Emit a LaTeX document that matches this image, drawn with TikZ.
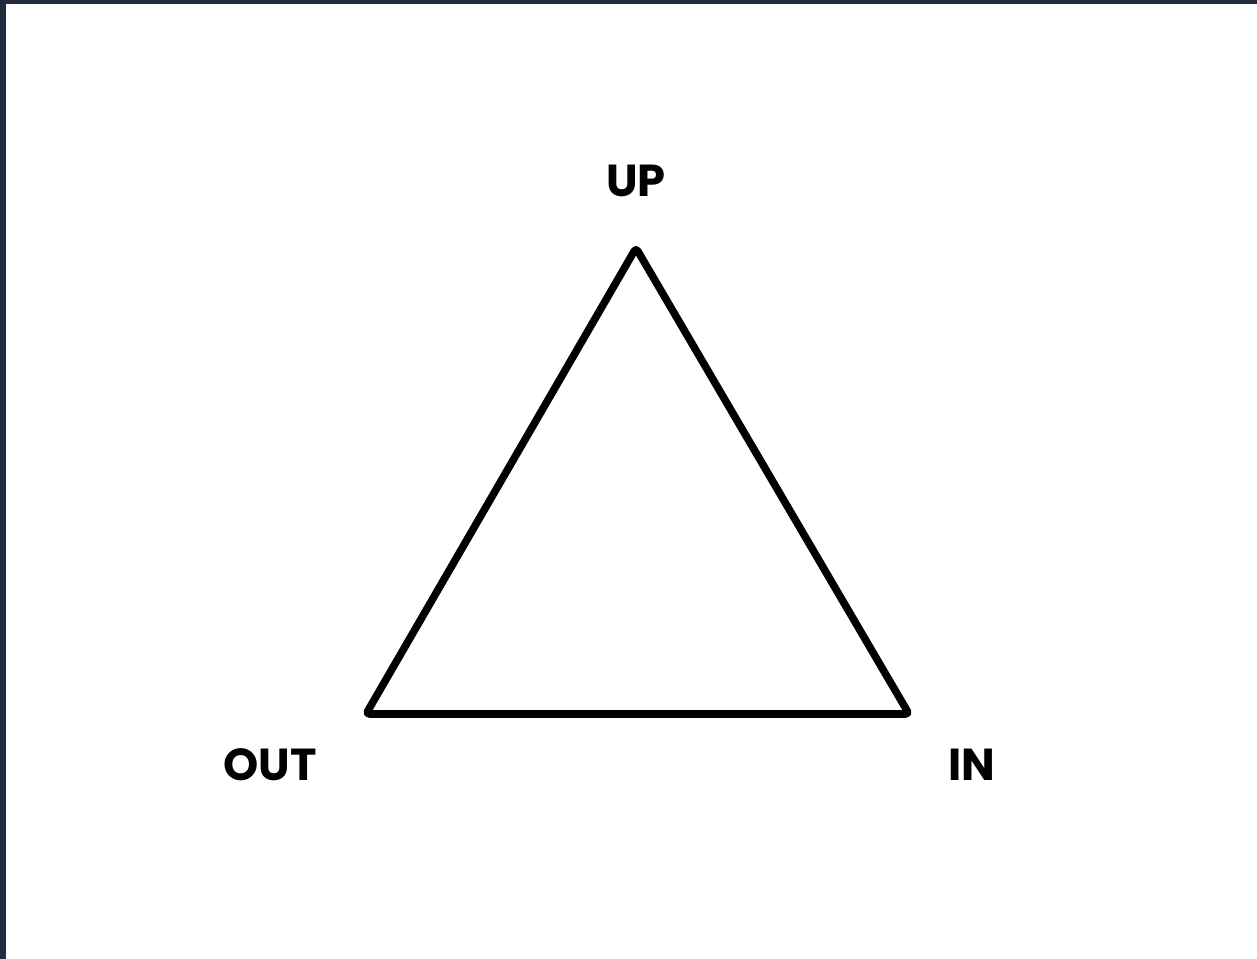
\documentclass[tikz,border=0pt]{standalone}
\usepackage{fontspec}
\setmainfont{Poppins}
\usepackage{tikz}
\usetikzlibrary{positioning}
\definecolor{framenavy}{RGB}{34,42,62}
\tikzset{
  triline/.style={line width=4.3pt, black, line join=round, line cap=round, rounded corners=2pt},
  corner/.style={font=\fontsize{25.5}{25.5}\selectfont\bfseries, inner sep=0pt, text=black},
}
\begin{document}
\begin{tikzpicture}[x=0.02cm, y=-0.02cm]
  % frame and page
  \fill[framenavy] (0,0) rectangle (1257,959);
  \fill[white] (6,4) rectangle (1257,959);
  \useasboundingbox (0,0) rectangle (1257,959);
  % corners of the triangle
  \coordinate (top) at (636,248);
  \coordinate (left) at (366,714);
  \coordinate (right) at (909,714);
  \draw[triline] (top) -- (right) -- (left) -- cycle;
  % labels
  \node[corner] (up) at (636,181) {UP};
  \node[corner] (out) at (270,765) {OUT};
  \node[corner] (in) at (972,765) {IN};
\end{tikzpicture}
\end{document}
